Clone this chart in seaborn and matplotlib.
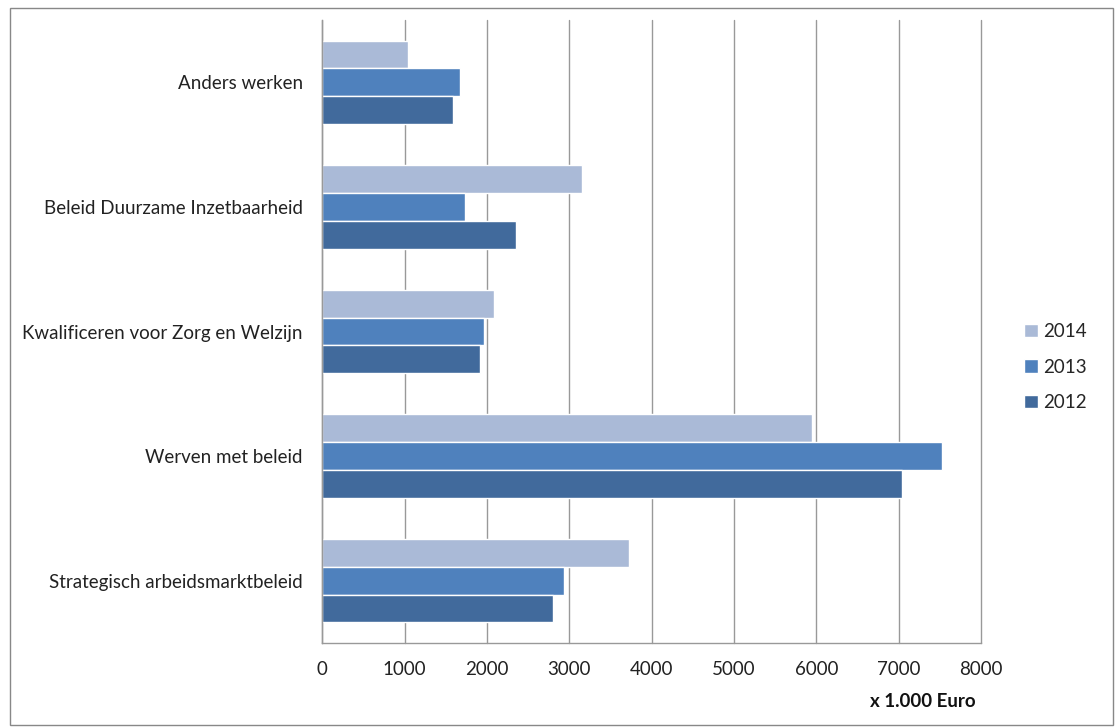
import pandas as pd
import numpy as np
import matplotlib.pyplot as plt
import seaborn as sns
from matplotlib.patches import Rectangle

# waarden in x 1.000 Euro
categories = ["Anders werken", "Beleid Duurzame Inzetbaarheid",
              "Kwalificeren voor Zorg en Welzijn", "Werven met beleid",
              "Strategisch arbeidsmarktbeleid"]
years = ["2014", "2013", "2012"]
v2014 = [1040, 3150, 2080, 5940, 3730]
v2013 = [1675, 1735, 1965, 7530, 2940]
v2012 = [1590, 2355, 1920, 7040, 2800]
xticks = [0, 1000, 2000, 3000, 4000, 5000, 6000, 7000, 8000]
colors = ["#AABAD7", "#4F81BD", "#416A9C"]

rows = []
for y, vals in zip(years, [v2014, v2013, v2012]):
    for c, v in zip(categories, vals):
        rows.append({"categorie": c, "jaar": y, "waarde": v})
df = pd.DataFrame(rows)

sns.set_style("white")
plt.rcParams['font.family'] = ['Lato', 'DejaVu Sans']

fig = plt.figure(figsize=(11.15, 7.27), dpi=100)
ax = fig.add_axes([0.289, 0.1155, 0.591, 0.857])

sns.barplot(data=df, y="categorie", x="waarde", hue="jaar", order=categories,
            hue_order=years, palette=colors, orient="h", width=0.67,
            saturation=1, ax=ax, legend=True)

ax.set_xlim(0, 8000)
ax.set_ylim(len(categories) - 0.5, -0.5)
ax.set_xticks(xticks)
ax.set_xticklabels([str(t) for t in xticks], fontsize=13.5, color="#222222")
ax.set_yticks(range(len(categories)))
ax.set_yticklabels(categories, fontsize=13.5, color="#222222")
ax.set_yticks(np.arange(-0.5, len(categories), 1), minor=True)
ax.tick_params(axis="y", which="major", length=0, pad=14)
ax.tick_params(axis="y", which="minor", length=5, color="#888888", width=1)
ax.tick_params(axis="x", length=6, color="#888888", width=1, pad=7)
ax.grid(axis="x", color="#999999", linewidth=1)
for gl in ax.get_xgridlines():
    gl.set_clip_on(False)
ax.set_axisbelow(True)
for s in ["top", "right"]:
    ax.spines[s].set_visible(False)
for s in ["left", "bottom"]:
    ax.spines[s].set_color("#999999")
    ax.spines[s].set_linewidth(1)
ax.set_xlabel("")
ax.set_ylabel("")

handles, labels = ax.get_legend_handles_labels()
ax.legend(handles, labels, loc="center left", bbox_to_anchor=(1.04, 0.443),
          frameon=False, fontsize=13.5, handlelength=0.7, handleheight=0.7,
          handletextpad=0.3, labelspacing=1.0)

fig.text(0.875, 0.035, "x 1.000 Euro", fontsize=13.5, fontweight="bold",
         ha="right", va="center", color="#111111")

fig.patches.append(Rectangle((0.009, 0.003), 0.989, 0.986, transform=fig.transFigure,
                             fill=False, edgecolor="#888888", linewidth=1))

fig.savefig("out.png", dpi=100)
